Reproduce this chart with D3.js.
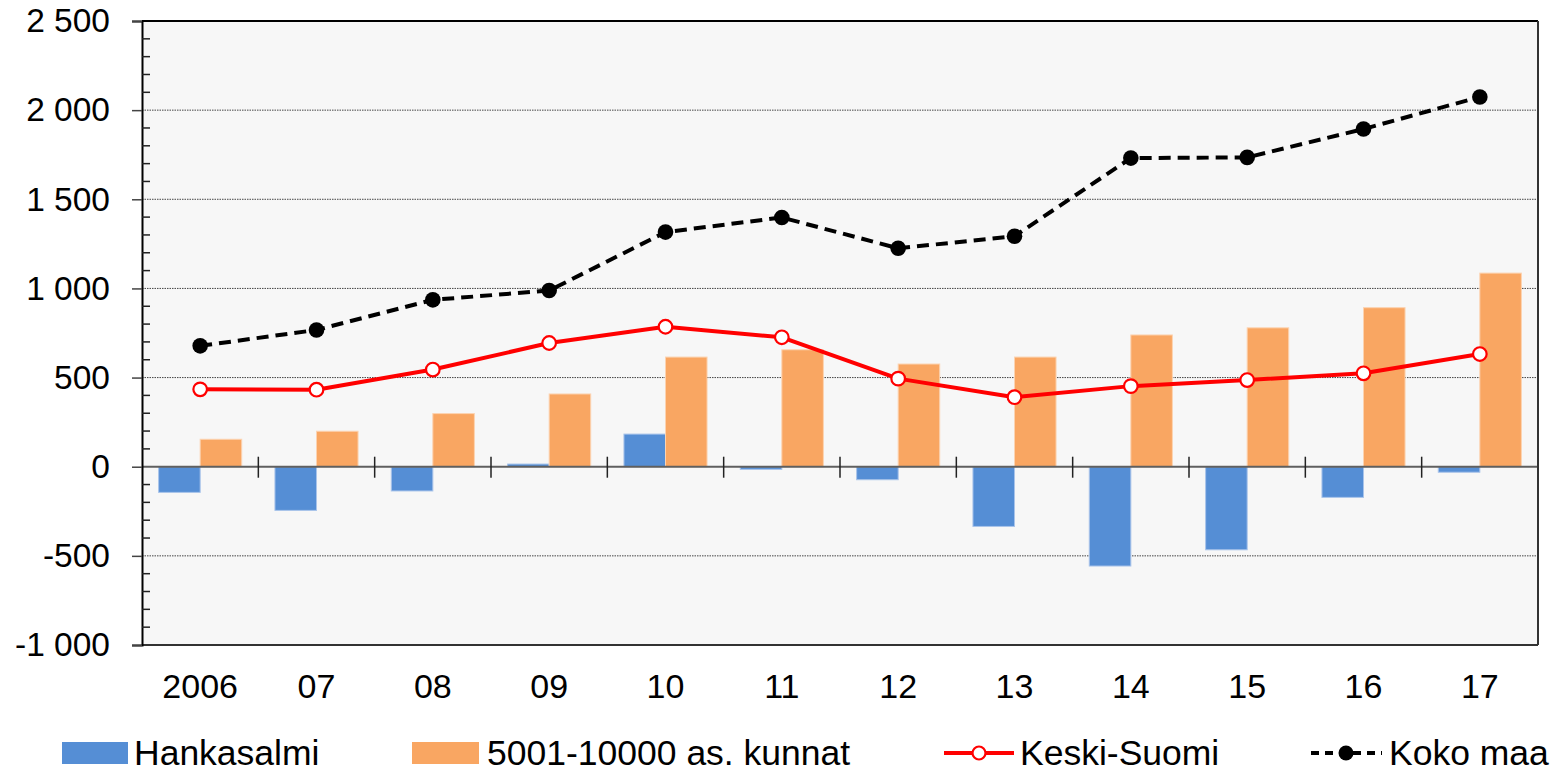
<!DOCTYPE html>
<html>
<head>
<meta charset="utf-8">
<script src="https://cdn.jsdelivr.net/npm/d3@7"></script>
<style>
  html, body { margin: 0; padding: 0; background: #ffffff; }
  svg { display: block; font-family: Arial, "Liberation Sans", sans-serif; }
</style>
</head>
<body>
<svg id="chart" width="1554" height="774"></svg>
<script>
// Years on the category axis
const categories = ["2006", "07", "08", "09", "10", "11", "12", "13", "14", "15", "16", "17"];

// Bar series
const hankasalmi = [-144, -245, -136, 15, 183, -15, -73, -335, -557, -466, -172, -31];
const kunnat5001 = [154, 199, 298, 408, 615, 656, 576, 615, 739, 779, 892, 1086];

// Line series
const keskiSuomi = [434, 432, 545, 694, 785, 726, 494, 390, 452, 486, 524, 632];
const kokoMaa = [678, 767, 936, 988, 1316, 1398, 1225, 1293, 1731, 1735, 1894, 2074];

// Value axis
const yTicks = [-1000, -500, 0, 500, 1000, 1500, 2000, 2500];
const yMinorStep = 100;

const legendLabels = ["Hankasalmi", "5001-10000 as. kunnat", "Keski-Suomi", "Koko maa"];

const colors = {
  blue: "#558ed5",
  blueEdge: "#a9c4ea",
  orange: "#f9a662",
  orangeEdge: "#fcd3b1",
  red: "#ff0000",
  black: "#000000"
};

const svg = d3.select("#chart");
const plot = { left: 142, right: 1538, top: 21, bottom: 645 };

const x = d3.scaleBand().domain(categories).range([plot.left, plot.right]).padding(0);
const xs = d3.scaleBand().domain(["h", "k"]).range([0, x.bandwidth()]).paddingInner(0).paddingOuter(0.4);
const y = d3.scaleLinear().domain([-1000, 2500]).range([plot.bottom, plot.top]);

const fmt = v => d3.format(",")(v).replace(/,/g, " ").replace("−", "-");

// Plot background
svg.append("rect")
  .attr("x", plot.left).attr("y", plot.top)
  .attr("width", plot.right - plot.left).attr("height", plot.bottom - plot.top)
  .attr("fill", "#f7f7f7");

// Dotted gridlines
svg.append("g")
  .selectAll("line")
  .data(yTicks.filter(v => v !== 0 && v !== -1000 && v !== 2500))
  .join("line")
  .attr("x1", plot.left).attr("x2", plot.right)
  .attr("y1", d => y(d)).attr("y2", d => y(d))
  .attr("stroke", "#444").attr("stroke-width", 1)
  .attr("stroke-dasharray", "1.5,1");

// Bars
const cx = c => x(c);
svg.append("g").selectAll("rect")
  .data(categories.map((c, i) => ({ c, v: hankasalmi[i] })))
  .join("rect")
  .attr("x", d => cx(d.c) + xs("h"))
  .attr("width", xs.bandwidth())
  .attr("y", d => y(Math.max(0, d.v)))
  .attr("height", d => Math.abs(y(d.v) - y(0)))
  .attr("fill", colors.blue)
  .attr("stroke", colors.blueEdge).attr("stroke-width", 1);

svg.append("g").selectAll("rect")
  .data(categories.map((c, i) => ({ c, v: kunnat5001[i] })))
  .join("rect")
  .attr("x", d => cx(d.c) + xs("k"))
  .attr("width", xs.bandwidth())
  .attr("y", d => y(Math.max(0, d.v)))
  .attr("height", d => Math.abs(y(d.v) - y(0)))
  .attr("fill", colors.orange)
  .attr("stroke", colors.orangeEdge).attr("stroke-width", 1);

// Zero line with category separators
svg.append("line")
  .attr("x1", plot.left).attr("x2", plot.right)
  .attr("y1", y(0)).attr("y2", y(0))
  .attr("stroke", "#5f5f5f").attr("stroke-width", 2);

svg.append("g").selectAll("line")
  .data(categories.slice(1))
  .join("line")
  .attr("x1", d => x(d)).attr("x2", d => x(d))
  .attr("y1", y(0) - 10).attr("y2", y(0) + 11)
  .attr("stroke", "#222").attr("stroke-width", 1.5);

// Plot frame
svg.append("line").attr("x1", plot.left).attr("x2", plot.right)
  .attr("y1", plot.top).attr("y2", plot.top).attr("stroke", "#000").attr("stroke-width", 2);
svg.append("line").attr("x1", plot.right).attr("x2", plot.right)
  .attr("y1", plot.top).attr("y2", plot.bottom).attr("stroke", "#333").attr("stroke-width", 2);
svg.append("line").attr("x1", plot.left).attr("x2", plot.right)
  .attr("y1", plot.bottom).attr("y2", plot.bottom).attr("stroke", "#333").attr("stroke-width", 2);

// Value axis: major ticks outward, minor ticks inward
const yAxis = d3.axisLeft(y).tickValues(yTicks).tickSize(10).tickPadding(22).tickFormat(fmt);
const gy = svg.append("g").attr("transform", `translate(${plot.left},0)`).call(yAxis);
gy.select(".domain").attr("stroke", "#000").attr("stroke-width", 2);
gy.selectAll(".tick line").attr("stroke", "#444").attr("stroke-width", 1.5);
gy.selectAll(".tick text").attr("font-size", 33.5).attr("fill", "#000")
  .attr("font-family", "Arial, 'Liberation Sans', sans-serif");

const minor = d3.range(-1000, 2500 + 1, yMinorStep).filter(v => v % 500 !== 0);
svg.append("g").selectAll("line")
  .data(minor)
  .join("line")
  .attr("x1", plot.left).attr("x2", plot.left + 8)
  .attr("y1", d => y(d)).attr("y2", d => y(d))
  .attr("stroke", "#222").attr("stroke-width", 1.5);

// Category labels
svg.append("g").selectAll("text")
  .data(categories)
  .join("text")
  .attr("x", d => x(d) + x.bandwidth() / 2)
  .attr("y", 698)
  .attr("text-anchor", "middle")
  .attr("font-size", 34)
  .attr("fill", "#000")
  .text(d => d);

// Lines
const xc = c => x(c) + x.bandwidth() / 2;
const line = d3.line().x(d => xc(d.c)).y(d => y(d.v));

const ksData = categories.map((c, i) => ({ c, v: keskiSuomi[i] }));
const kmData = categories.map((c, i) => ({ c, v: kokoMaa[i] }));

svg.append("path").datum(ksData)
  .attr("d", line).attr("fill", "none")
  .attr("stroke", colors.red).attr("stroke-width", 4).attr("stroke-linejoin", "round");
svg.append("g").selectAll("circle").data(ksData).join("circle")
  .attr("cx", d => xc(d.c)).attr("cy", d => y(d.v)).attr("r", 6.8)
  .attr("fill", "#fff").attr("stroke", colors.red).attr("stroke-width", 2.2);

svg.append("path").datum(kmData)
  .attr("d", line).attr("fill", "none")
  .attr("stroke", colors.black).attr("stroke-width", 4)
  .attr("stroke-dasharray", "12,7");
svg.append("g").selectAll("circle").data(kmData).join("circle")
  .attr("cx", d => xc(d.c)).attr("cy", d => y(d.v)).attr("r", 7.8)
  .attr("fill", colors.black);

// Legend
const ly = 753;
const legend = svg.append("g").attr("font-size", 35.5).attr("fill", "#000");

legend.append("rect").attr("x", 62).attr("y", ly - 11).attr("width", 66).attr("height", 22).attr("fill", colors.blue);
legend.append("text").attr("x", 134).attr("y", ly + 12).text(legendLabels[0]);

legend.append("rect").attr("x", 412).attr("y", ly - 11).attr("width", 67).attr("height", 22).attr("fill", colors.orange);
legend.append("text").attr("x", 487).attr("y", ly + 12).text(legendLabels[1]);

legend.append("line").attr("x1", 944).attr("x2", 1014).attr("y1", ly).attr("y2", ly)
  .attr("stroke", colors.red).attr("stroke-width", 4);
legend.append("circle").attr("cx", 979).attr("cy", ly).attr("r", 6.5)
  .attr("fill", "#fff").attr("stroke", colors.red).attr("stroke-width", 2.2);
legend.append("text").attr("x", 1020).attr("y", ly + 12).text(legendLabels[2]);

legend.append("line").attr("x1", 1311).attr("x2", 1382).attr("y1", ly).attr("y2", ly)
  .attr("stroke", colors.black).attr("stroke-width", 4).attr("stroke-dasharray", "8,6");
legend.append("circle").attr("cx", 1346).attr("cy", ly).attr("r", 7.5).attr("fill", colors.black);
legend.append("text").attr("x", 1389).attr("y", ly + 12).text(legendLabels[3]);
</script>
</body>
</html>
